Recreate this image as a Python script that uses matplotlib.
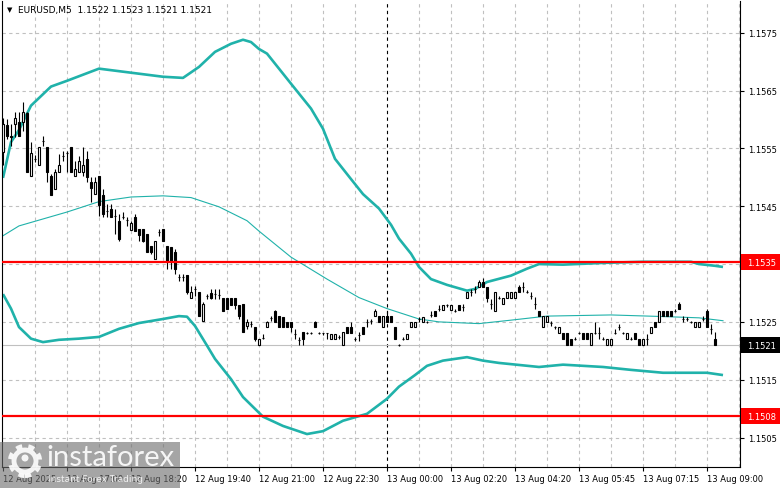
import matplotlib
matplotlib.use("Agg")
import matplotlib.pyplot as plt
from matplotlib.patches import Rectangle, Circle
from matplotlib.transforms import blended_transform_factory, IdentityTransform

# M5 candles, one per bar index
opens = [
    1.15544, 1.15591, 1.15572, 1.15593, 1.15596, 1.15596, 1.15611, 1.15503, 1.15532, 1.15522,
    1.15563, 1.15553, 1.15503, 1.15480, 1.15510, 1.15537, 1.15542, 1.15553, 1.15503, 1.15510,
    1.15510, 1.15532, 1.15492, 1.15471, 1.15503, 1.15470, 1.15442, 1.15446, 1.15433, 1.15425,
    1.15432, 1.15426, 1.15409, 1.15432, 1.15411, 1.15411, 1.15402, 1.15381, 1.15359, 1.15406,
    1.15411, 1.15381, 1.15380, 1.15371, 1.15328, 1.15328, 1.15331, 1.15292, 1.15307, 1.15302,
    1.15252, 1.15295, 1.15300, 1.15298, 1.15297, 1.15292, 1.15292, 1.15292, 1.15292, 1.15279,
    1.15281, 1.15243, 1.15247, 1.15241, 1.15210, 1.15222, 1.15241, 1.15257, 1.15269, 1.15260,
    1.15259, 1.15250, 1.15250, 1.15229, 1.15219, 1.15233, 1.15231, 1.15231, 1.15250, 1.15231,
    1.15231, 1.15231, 1.15221, 1.15221, 1.15224, 1.15210, 1.15241, 1.15241, 1.15221, 1.15228,
    1.15241, 1.15250, 1.15252, 1.15260, 1.15260, 1.15241, 1.15260, 1.15260, 1.15241, 1.15210,
    1.15221, 1.15221, 1.15241, 1.15241, 1.15255, 1.15250, 1.15250, 1.15262, 1.15269, 1.15272,
    1.15271, 1.15279, 1.15271, 1.15269, 1.15279, 1.15276, 1.15292, 1.15302, 1.15307, 1.15311,
    1.15319, 1.15311, 1.15281, 1.15269, 1.15292, 1.15281, 1.15292, 1.15292, 1.15292, 1.15311,
    1.15311, 1.15302, 1.15295, 1.15281, 1.15269, 1.15241, 1.15250, 1.15248, 1.15241, 1.15231,
    1.15231, 1.15231, 1.15221, 1.15221, 1.15231, 1.15231, 1.15231, 1.15210, 1.15231, 1.15231,
    1.15221, 1.15210, 1.15210, 1.15231, 1.15241, 1.15231, 1.15221, 1.15221, 1.15231, 1.15221,
    1.15210, 1.15221, 1.15231, 1.15250, 1.15250, 1.15269, 1.15269, 1.15269, 1.15269, 1.15281,
    1.15255, 1.15255, 1.15250, 1.15241, 1.15241, 1.15255, 1.15269, 1.15238, 1.15221,
]
highs = [
    1.15603, 1.15601, 1.15593, 1.15613, 1.15613, 1.15631, 1.15613, 1.15561, 1.15539, 1.15553,
    1.15572, 1.15553, 1.15506, 1.15515, 1.15541, 1.15546, 1.15546, 1.15553, 1.15529, 1.15537,
    1.15553, 1.15546, 1.15501, 1.15501, 1.15503, 1.15480, 1.15454, 1.15454, 1.15446, 1.15437,
    1.15440, 1.15432, 1.15425, 1.15437, 1.15411, 1.15411, 1.15402, 1.15381, 1.15390, 1.15411,
    1.15411, 1.15381, 1.15380, 1.15376, 1.15333, 1.15333, 1.15331, 1.15312, 1.15312, 1.15302,
    1.15285, 1.15298, 1.15307, 1.15307, 1.15307, 1.15292, 1.15292, 1.15292, 1.15292, 1.15279,
    1.15281, 1.15255, 1.15252, 1.15241, 1.15221, 1.15229, 1.15252, 1.15260, 1.15271, 1.15260,
    1.15259, 1.15250, 1.15250, 1.15238, 1.15224, 1.15233, 1.15233, 1.15233, 1.15252, 1.15233,
    1.15231, 1.15231, 1.15229, 1.15229, 1.15228, 1.15233, 1.15241, 1.15250, 1.15224, 1.15233,
    1.15241, 1.15255, 1.15255, 1.15272, 1.15260, 1.15260, 1.15269, 1.15260, 1.15241, 1.15212,
    1.15224, 1.15229, 1.15250, 1.15250, 1.15259, 1.15259, 1.15252, 1.15269, 1.15269, 1.15279,
    1.15279, 1.15281, 1.15279, 1.15272, 1.15279, 1.15281, 1.15302, 1.15307, 1.15312, 1.15323,
    1.15326, 1.15311, 1.15290, 1.15302, 1.15295, 1.15292, 1.15302, 1.15302, 1.15302, 1.15314,
    1.15319, 1.15305, 1.15302, 1.15293, 1.15269, 1.15260, 1.15260, 1.15252, 1.15243, 1.15241,
    1.15231, 1.15231, 1.15221, 1.15224, 1.15233, 1.15231, 1.15231, 1.15231, 1.15250, 1.15241,
    1.15224, 1.15221, 1.15221, 1.15238, 1.15247, 1.15233, 1.15231, 1.15224, 1.15231, 1.15221,
    1.15221, 1.15229, 1.15241, 1.15250, 1.15269, 1.15269, 1.15269, 1.15269, 1.15272, 1.15285,
    1.15260, 1.15259, 1.15252, 1.15250, 1.15250, 1.15260, 1.15272, 1.15247, 1.15233,
]
lows = [
    1.15522, 1.15567, 1.15555, 1.15570, 1.15572, 1.15580, 1.15510, 1.15503, 1.15527, 1.15522,
    1.15555, 1.15492, 1.15470, 1.15480, 1.15510, 1.15529, 1.15510, 1.15510, 1.15503, 1.15510,
    1.15503, 1.15492, 1.15458, 1.15471, 1.15433, 1.15432, 1.15432, 1.15432, 1.15402, 1.15390,
    1.15428, 1.15416, 1.15409, 1.15407, 1.15390, 1.15388, 1.15371, 1.15368, 1.15359, 1.15399,
    1.15390, 1.15342, 1.15342, 1.15333, 1.15321, 1.15321, 1.15298, 1.15292, 1.15295, 1.15260,
    1.15252, 1.15290, 1.15290, 1.15290, 1.15290, 1.15269, 1.15272, 1.15279, 1.15272, 1.15255,
    1.15233, 1.15238, 1.15241, 1.15217, 1.15210, 1.15221, 1.15241, 1.15252, 1.15250, 1.15241,
    1.15241, 1.15241, 1.15233, 1.15221, 1.15210, 1.15210, 1.15229, 1.15229, 1.15241, 1.15229,
    1.15228, 1.15221, 1.15221, 1.15221, 1.15221, 1.15210, 1.15231, 1.15231, 1.15217, 1.15217,
    1.15229, 1.15241, 1.15247, 1.15260, 1.15250, 1.15241, 1.15250, 1.15250, 1.15221, 1.15208,
    1.15219, 1.15221, 1.15241, 1.15241, 1.15250, 1.15250, 1.15248, 1.15259, 1.15260, 1.15269,
    1.15271, 1.15276, 1.15271, 1.15267, 1.15271, 1.15269, 1.15292, 1.15295, 1.15300, 1.15311,
    1.15311, 1.15285, 1.15272, 1.15269, 1.15290, 1.15281, 1.15292, 1.15292, 1.15292, 1.15302,
    1.15302, 1.15300, 1.15290, 1.15272, 1.15260, 1.15241, 1.15250, 1.15243, 1.15238, 1.15231,
    1.15221, 1.15210, 1.15210, 1.15219, 1.15229, 1.15221, 1.15221, 1.15210, 1.15229, 1.15221,
    1.15219, 1.15210, 1.15210, 1.15229, 1.15236, 1.15229, 1.15221, 1.15219, 1.15221, 1.15210,
    1.15210, 1.15210, 1.15231, 1.15241, 1.15250, 1.15260, 1.15260, 1.15260, 1.15267, 1.15272,
    1.15250, 1.15252, 1.15248, 1.15241, 1.15241, 1.15252, 1.15241, 1.15229, 1.15210,
]
closes = [
    1.15593, 1.15572, 1.15570, 1.15603, 1.15572, 1.15613, 1.15510, 1.15542, 1.15532, 1.15553,
    1.15563, 1.15510, 1.15470, 1.15510, 1.15522, 1.15537, 1.15542, 1.15510, 1.15515, 1.15529,
    1.15522, 1.15501, 1.15482, 1.15492, 1.15452, 1.15437, 1.15442, 1.15432, 1.15433, 1.15394,
    1.15432, 1.15426, 1.15421, 1.15407, 1.15401, 1.15390, 1.15371, 1.15371, 1.15390, 1.15406,
    1.15390, 1.15356, 1.15354, 1.15342, 1.15328, 1.15328, 1.15302, 1.15302, 1.15307, 1.15260,
    1.15281, 1.15295, 1.15292, 1.15298, 1.15297, 1.15269, 1.15272, 1.15279, 1.15279, 1.15260,
    1.15233, 1.15250, 1.15247, 1.15221, 1.15221, 1.15222, 1.15250, 1.15257, 1.15250, 1.15241,
    1.15241, 1.15241, 1.15241, 1.15229, 1.15219, 1.15221, 1.15231, 1.15231, 1.15241, 1.15231,
    1.15231, 1.15231, 1.15229, 1.15229, 1.15224, 1.15233, 1.15231, 1.15231, 1.15221, 1.15228,
    1.15229, 1.15250, 1.15252, 1.15269, 1.15250, 1.15260, 1.15250, 1.15250, 1.15221, 1.15210,
    1.15221, 1.15229, 1.15250, 1.15250, 1.15255, 1.15259, 1.15250, 1.15262, 1.15260, 1.15272,
    1.15279, 1.15279, 1.15279, 1.15269, 1.15271, 1.15276, 1.15302, 1.15302, 1.15307, 1.15319,
    1.15311, 1.15292, 1.15281, 1.15302, 1.15292, 1.15292, 1.15302, 1.15302, 1.15302, 1.15302,
    1.15311, 1.15302, 1.15295, 1.15281, 1.15260, 1.15260, 1.15260, 1.15248, 1.15241, 1.15241,
    1.15221, 1.15210, 1.15210, 1.15221, 1.15231, 1.15221, 1.15221, 1.15231, 1.15231, 1.15231,
    1.15221, 1.15221, 1.15221, 1.15231, 1.15241, 1.15231, 1.15231, 1.15221, 1.15221, 1.15210,
    1.15221, 1.15221, 1.15241, 1.15241, 1.15269, 1.15260, 1.15260, 1.15260, 1.15269, 1.15272,
    1.15255, 1.15255, 1.15250, 1.15250, 1.15250, 1.15255, 1.15241, 1.15238, 1.15210,
]
assert len(opens) == len(highs) == len(lows) == len(closes)

# Bollinger bands (bar index, price)
upper_idx = [0, 2, 4, 7, 12, 16, 24, 32, 40, 45, 49, 53, 57, 60, 62, 64, 66, 72, 77, 80,
             83, 87, 90, 94, 97, 99, 102, 104, 107, 111, 116, 118, 121, 127, 131, 134, 140,
             150, 160, 172, 174, 178, 180]
upper_val = [1.15499, 1.15561, 1.15582, 1.15624, 1.15657, 1.15667, 1.15688, 1.15681, 1.15674,
             1.15672, 1.15691, 1.15717, 1.15731, 1.15738, 1.15734, 1.15722, 1.15714, 1.15662,
             1.15619, 1.15584, 1.15532, 1.15497, 1.15471, 1.15446, 1.15418, 1.15394, 1.15368,
             1.15345, 1.15324, 1.15314, 1.15304, 1.15307, 1.15319, 1.15330, 1.15342, 1.15350,
             1.15349, 1.15352, 1.15354, 1.15354, 1.15350, 1.15347, 1.15345]
mid_idx = [0, 4, 10, 16, 24, 32, 40, 47, 54, 61, 64, 72, 81, 89, 96, 104, 109, 119, 127,
           136, 152, 166, 174, 180]
mid_val = [1.15399, 1.15416, 1.15428, 1.15440, 1.15458, 1.15466, 1.15468, 1.15465, 1.15449,
           1.15425, 1.15407, 1.15362, 1.15324, 1.15292, 1.15273, 1.15255, 1.15250, 1.15247,
           1.15253, 1.15260, 1.15262, 1.15259, 1.15257, 1.15252]
lower_idx = [0, 2, 4, 7, 10, 14, 19, 24, 29, 34, 40, 44, 46, 48, 51, 53, 57, 60, 65, 70,
             76, 80, 85, 91, 96, 99, 103, 106, 110, 116, 120, 124, 134, 140, 150, 157, 165,
             176, 180]
lower_val = [1.15298, 1.15273, 1.15241, 1.15221, 1.15215, 1.15219, 1.15221, 1.15224, 1.15238,
             1.15248, 1.15255, 1.15260, 1.15259, 1.15243, 1.15209, 1.15186, 1.15151, 1.15120,
             1.15086, 1.15070, 1.15056, 1.15061, 1.15079, 1.15091, 1.15117, 1.15138, 1.15158,
             1.15174, 1.15183, 1.15189, 1.15183, 1.15179, 1.15172, 1.15176, 1.15172, 1.15167,
             1.15162, 1.15162, 1.15158]

levels = [1.15353, 1.15087]
level_labels = ["1.1535", "1.1508"]
bid = 1.1521
bid_label = "1.1521"

tick_bars = [0, 16, 32, 48, 64, 80, 96, 112, 128, 144, 160, 176]
tick_labels = ["12 Aug 2025", "12 Aug 17:00", "12 Aug 18:20", "12 Aug 19:40", "12 Aug 21:00",
               "12 Aug 22:30", "13 Aug 00:00", "13 Aug 02:20", "13 Aug 04:20", "13 Aug 05:45",
               "13 Aug 07:15", "13 Aug 09:00"]
price_ticks = [1.1505, 1.1515, 1.1525, 1.1535, 1.1545, 1.1555, 1.1565, 1.1575]
day_sep = 96

W, H = 781, 489
fig = plt.figure(figsize=(W / 100, H / 100), dpi=100)
ax = fig.add_axes([2 / W, 21 / H, 738 / W, 466 / H])
ax.set_xlim(-0.25, 184.25)
ax.set_ylim(1.14999, 1.15805)

band_col = "#20b2aa"
grid_col = "#c0c0c0"

# grid
for k in range(8, 185, 8):
    if k == day_sep:
        ax.axvline(k, color="black", lw=0.8, ls=(0, (3, 3)), zorder=1)
    else:
        ax.axvline(k, color=grid_col, lw=0.8, ls=(0, (3, 3)), zorder=0)
for p in price_ticks:
    ax.axhline(p, color=grid_col, lw=0.8, ls=(0, (3, 3)), zorder=0)

ax.axhline(bid, color=grid_col, lw=0.8, zorder=1)

# bands
ax.plot(upper_idx, upper_val, color=band_col, lw=1.9, zorder=2, solid_capstyle="butt")
ax.plot(lower_idx, lower_val, color=band_col, lw=1.9, zorder=2, solid_capstyle="butt")
ax.plot(mid_idx, mid_val, color=band_col, lw=0.8, zorder=2)

# candles
for i, (o, h, l, c) in enumerate(zip(opens, highs, lows, closes)):
    ax.vlines(i, l, h, color="black", lw=0.8, zorder=3)
    face = "white" if c > o else "black"
    ax.bar(i, abs(c - o), bottom=min(o, c), width=0.5, facecolor=face,
           edgecolor="black", lw=0.8, zorder=4)

# support / resistance
for lv in levels:
    ax.axhline(lv, color="red", lw=1.6, zorder=5)

# axes styling
for side in ["left", "bottom", "right"]:
    ax.spines[side].set_color("black")
    ax.spines[side].set_linewidth(0.8)
ax.spines["top"].set_visible(False)

ax.yaxis.tick_right()
ax.set_yticks(price_ticks)
# the 1.1535 label sits under the red level box
ax.set_yticklabels(["" if abs(p - 1.1535) < 1e-9 else f"{p:.4f}" for p in price_ticks])
ax.tick_params(axis="y", direction="out", length=3, width=0.8, pad=3, labelsize=6)
ax.set_xticks(tick_bars)
ax.set_xticklabels(tick_labels)
for lbl in ax.get_xticklabels():
    lbl.set_horizontalalignment("left")
ax.tick_params(axis="x", direction="out", length=3, width=0.8, pad=2, labelsize=6)

# price boxes on the right scale
tr = blended_transform_factory(ax.transAxes, ax.transData)
box_h = 0.000277
for lv, txt, col in [(levels[0], level_labels[0], "red"),
                     (levels[1], level_labels[1], "red"),
                     (bid, bid_label, "black")]:
    ax.add_patch(Rectangle((1.0014, lv - box_h / 2), 0.0528, box_h, transform=tr,
                           facecolor=col, edgecolor="none", clip_on=False, zorder=10))
    ax.text(1.0095, lv, txt, transform=tr, color="white", fontsize=6,
            va="center", ha="left", clip_on=False, zorder=11)

# header
fig.text(7 / W, 1 - 10 / H, "\u25bc", fontsize=5, va="center", ha="left")
fig.text(18 / W, 1 - 10 / H, "EURUSD,M5  1.1522 1.1523 1.1521 1.1521",
         fontsize=6.5, va="center", ha="left")

# watermark
fig.add_artist(Rectangle((0, 0), 180 / W, 46 / H, transform=fig.transFigure,
                         facecolor="#6e6e6e", edgecolor="none", alpha=0.62, zorder=20))
fig.add_artist(Circle((25, 27), 11, transform=IdentityTransform(), facecolor="none",
                      edgecolor="white", lw=3.5, alpha=0.9, zorder=21))
fig.add_artist(Circle((25, 27), 15, transform=IdentityTransform(), facecolor="none",
                      edgecolor="white", lw=3, ls=(0, (1.5, 1.5)), alpha=0.9, zorder=21))
fig.add_artist(Circle((25, 30), 3.5, transform=IdentityTransform(), facecolor="white",
                      edgecolor="none", alpha=0.9, zorder=21))
fig.text(46 / W, 1 - 458 / H, "instaforex", fontsize=21, family="Lato", color="white",
         alpha=0.9, va="center", ha="left", zorder=22)
fig.text(48 / W, 1 - 480 / H, "Instant Forex Trading", fontsize=6.5, color="white",
         alpha=0.85, va="center", ha="left", zorder=22)

fig.savefig("out.png", dpi=100)
